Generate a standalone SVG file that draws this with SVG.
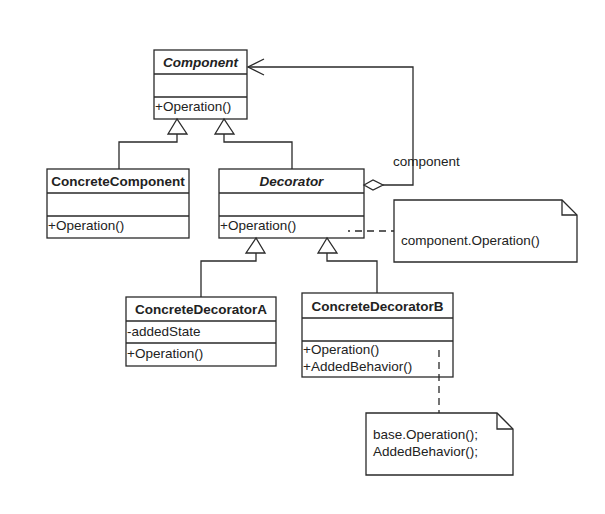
<svg xmlns="http://www.w3.org/2000/svg" width="605" height="514" viewBox="0 0 605 514">
<style>
.box{fill:#fff;stroke:#2a2a2a;stroke-width:1.3}
.ln{fill:none;stroke:#2a2a2a;stroke-width:1.3}
.dash{fill:none;stroke:#2a2a2a;stroke-width:1.3;stroke-dasharray:7,5}
.tri{fill:#fff;stroke:#2a2a2a;stroke-width:1.3}
text{font-family:"Liberation Sans",Arial,sans-serif;font-size:13.5px;fill:#222}
.h{font-weight:bold;text-anchor:middle}
.hi{font-weight:bold;font-style:italic;text-anchor:middle}
</style>
<rect width="605" height="514" fill="#fff"/>
<g id="Component">
<rect class="box" x="154" y="50" width="93" height="69"/>
<path class="ln" d="M154,74 H247 M154,97 H247"/>
<text class="hi" x="200.5" y="67">Component</text>
<text x="155" y="111">+Operation()</text>
</g>
<g id="ConcreteComponent">
<rect class="box" x="47" y="169" width="142" height="69"/>
<path class="ln" d="M47,193 H189 M47,216 H189"/>
<text class="h" x="118" y="186">ConcreteComponent</text>
<text x="48" y="230">+Operation()</text>
</g>
<g id="Decorator">
<rect class="box" x="219" y="169" width="145" height="69"/>
<path class="ln" d="M219,193 H364 M219,216 H364"/>
<text class="hi" x="291.5" y="186">Decorator</text>
<text x="220" y="230">+Operation()</text>
</g>
<g id="ConcreteDecoratorA">
<rect class="box" x="126" y="297" width="150" height="69"/>
<path class="ln" d="M126,321 H276 M126,343 H276"/>
<text class="h" x="201" y="314">ConcreteDecoratorA</text>
<text x="127" y="335.5">-addedState</text>
<text x="127" y="358">+Operation()</text>
</g>
<g id="ConcreteDecoratorB">
<rect class="box" x="302" y="293" width="151" height="84"/>
<path class="ln" d="M302,318 H453 M302,341 H453"/>
<text class="h" x="377.5" y="311">ConcreteDecoratorB</text>
<text x="303" y="354">+Operation()</text>
<text x="303" y="371">+AddedBehavior()</text>
</g>
<g id="note1">
<path class="box" d="M394,200 H562 L577,215 V262 H394 Z"/>
<path class="ln" d="M562,200 V215 H577"/>
<text x="401" y="245">component.Operation()</text>
</g>
<g id="note2">
<path class="box" d="M366,413 H497 L513,429 V475 H366 Z"/>
<path class="ln" d="M497,413 V429 H513"/>
<text x="373" y="439">base.Operation();</text>
<text x="373" y="456">AddedBehavior();</text>
</g>
<g id="connectors">
<path class="ln" d="M177,134 V142 H119 V169"/>
<polygon class="tri" points="177,119 168,134 187,134"/>
<path class="ln" d="M224,134 V142 H292 V169"/>
<polygon class="tri" points="224,119 215,134 234,134"/>
<path class="ln" d="M383,185 H413 V67 H248"/>
<polygon class="tri" points="364,185 373,180 383,185 373,190"/>
<path class="ln" d="M264,59 L248,67 L264,75"/>
<text x="393" y="166">component</text>
<path class="ln" d="M256,253 V261 H201 V297"/>
<polygon class="tri" points="256,238 246,253 265,253"/>
<path class="ln" d="M327,253 V261 H377 V293"/>
<polygon class="tri" points="327,238 318,253 337,253"/>
<path class="dash" d="M348,231 H394" stroke-dashoffset="5"/>
<path class="dash" d="M439,350 V413"/>
</g>
</svg>
